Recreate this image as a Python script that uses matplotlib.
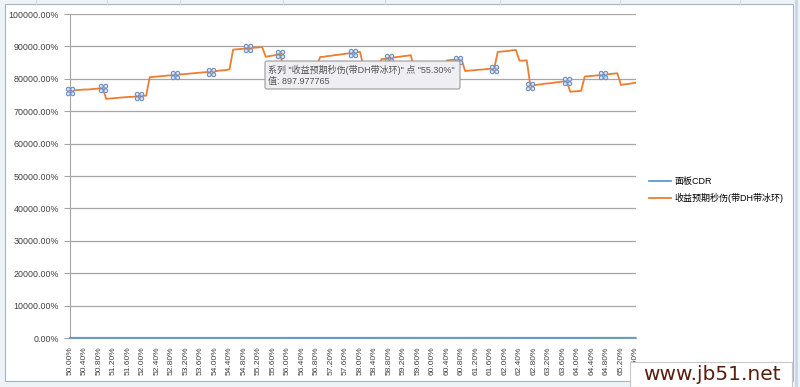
import matplotlib.pyplot as plt
import numpy as np
from matplotlib.path import Path
from matplotlib.patches import Rectangle, FancyBboxPatch
from matplotlib.ticker import FuncFormatter, FixedLocator

plt.rcParams['font.family'] = ['Liberation Sans', 'Noto Sans CJK SC', 'DejaVu Sans']

# categories: 50.00% .. 65.60% in 0.10% steps
categories = [round(50 + i * 0.1, 2) for i in range(157)]

# 收益预期秒伤(带DH带冰环), raw values (axis shows value*100 %)
dps = [763, 764, 765, 766, 767, 767, 768, 769, 770, 771,
       738, 739, 740, 741, 742, 743, 744, 744, 745, 746, 747, 748,
       805, 806, 807, 808, 809, 810, 811, 812, 813, 814, 815, 816, 817, 818,
       819, 820, 821, 822, 823, 825, 826, 827, 829,
       890, 891, 892, 893, 894, 895, 896, 897, 897.977765,
       868, 870, 872, 874, 876,
       829, 830, 831, 832, 833, 834, 835, 836, 837, 838,
       867, 868, 870, 871, 873, 874, 876, 877, 879, 880, 882, 883,
       835, 836, 837, 838, 839,
       861, 862, 864, 865, 867, 868, 870, 871, 873,
       830, 831, 832, 833, 834, 835, 836, 837, 838, 857, 858, 859, 859, 860,
       824, 825, 826, 827, 828, 829, 830, 831, 831,
       883, 884, 885, 886, 888, 889,
       856, 856, 857,
       779, 780, 782, 783, 785, 786, 787, 789, 790, 792, 793,
       760, 761, 762, 763,
       807, 808, 809, 810, 811, 812, 813, 815, 816, 817,
       781, 783, 784, 786, 788]

# 面板CDR (same as the category value)
cdr = [c / 100 for c in categories]

# points showing selection handles
sel_idx = [0, 9, 19, 29, 39, 49, 58, 68, 78, 88, 98, 107, 117, 127, 137, 147]

blue = '#5b9bd5'
orange = '#ed7d31'

fig = plt.figure(figsize=(8, 3.87), dpi=100)

# background frame (pixel coords)
bg = fig.add_axes([0, 0, 1, 1], zorder=-5)
bg.set_xlim(0, 800)
bg.set_ylim(387, 0)
bg.axis('off')
bg.add_patch(Rectangle((0, 0), 800, 387, facecolor='#eef3f8', edgecolor='none'))
for gx in [36, 107, 180, 283, 385, 500, 620, 740]:
    bg.plot([gx, gx], [0, 4], color='#d4dbe4', lw=0.8)
bg.add_patch(Rectangle((5, 4), 788, 377, facecolor='white', edgecolor='#a9b4c2', lw=0.8))
bg.plot([796, 796], [0, 387], color='#c9d6e3', lw=2)

x = np.arange(len(categories))
ax = fig.add_axes([70 / 800, 1 - 338 / 387, 565.5 / 800, 324 / 387])
ax.set_facecolor('white')
ax.plot(x, cdr, color=blue, lw=1.3, label='面板CDR', zorder=3, clip_on=False)
ax.plot(x, dps, color=orange, lw=1.3, label='收益预期秒伤(带DH带冰环)', zorder=3)

# selection handle glyph: 4 small circles
circ = [Path.circle((dx, dy), 0.85) for dx in (-1, 1) for dy in (-1, 1)]
handle = Path.make_compound_path(*circ)
ax.plot(x[sel_idx], [dps[i] for i in sel_idx], linestyle='none', marker=handle,
        ms=6, mfc='#dbe5f2', mec='#6f8fbf', mew=0.8, zorder=4, clip_on=False)

ax.set_xlim(0, 156)
ax.set_ylim(0, 1000)
ax.yaxis.set_major_locator(FixedLocator(np.arange(0, 1001, 100)))
ax.yaxis.set_major_formatter(FuncFormatter(lambda v, p: f'{v * 100:.2f}%'))
ax.grid(axis='y', color='#a6a6a6', lw=0.9)
ax.set_axisbelow(True)

ticks = x[::4]
ax.set_xticks(ticks)
ax.set_xticklabels([f'{categories[i]:.2f}%' for i in ticks], rotation=90)
ax.tick_params(axis='x', length=0, pad=6, labelsize=6, colors='#404040')
ax.tick_params(axis='y', length=4, width=0.8, color='#a6a6a6', pad=4,
               labelsize=6.4, labelcolor='#404040')
for s in ['top', 'right']:
    ax.spines[s].set_visible(False)
ax.spines['left'].set_color('#a6a6a6')
ax.spines['bottom'].set_color('#a6a6a6')

leg = ax.legend(loc='center left', bbox_to_anchor=(641 / 800, 1 - 190 / 387),
                bbox_transform=fig.transFigure, frameon=False, fontsize=6.5,
                handlelength=2.4, handletextpad=0.4, labelspacing=0.8)

# overlay: tooltip and watermark
ov = fig.add_axes([0, 0, 1, 1], zorder=10)
ov.set_xlim(0, 800)
ov.set_ylim(387, 0)
ov.axis('off')
ov.patch.set_alpha(0)
ov.add_patch(FancyBboxPatch((265, 61), 195, 28, boxstyle='round,pad=0,rounding_size=2',
                            facecolor='#eeeef3', edgecolor='#9b9b9b', lw=0.8))
ov.text(268, 70, '系列 "收益预期秒伤(带DH带冰环)" 点 "55.30%"', fontsize=6.5,
        color='#555555', va='center', ha='left')
ov.text(268, 81.5, '值: 897.977765', fontsize=6.5, color='#555555',
        va='center', ha='left')

ov.add_patch(Rectangle((630, 362), 162, 25, facecolor='white', edgecolor='#c8c8c8', lw=0.8))
ov.text(712, 375, 'www.jb51.net', fontsize=14.5, color='#5a1e0e', ha='center',
        va='center', family='DejaVu Sans')

fig.savefig('out.png', dpi=100)
